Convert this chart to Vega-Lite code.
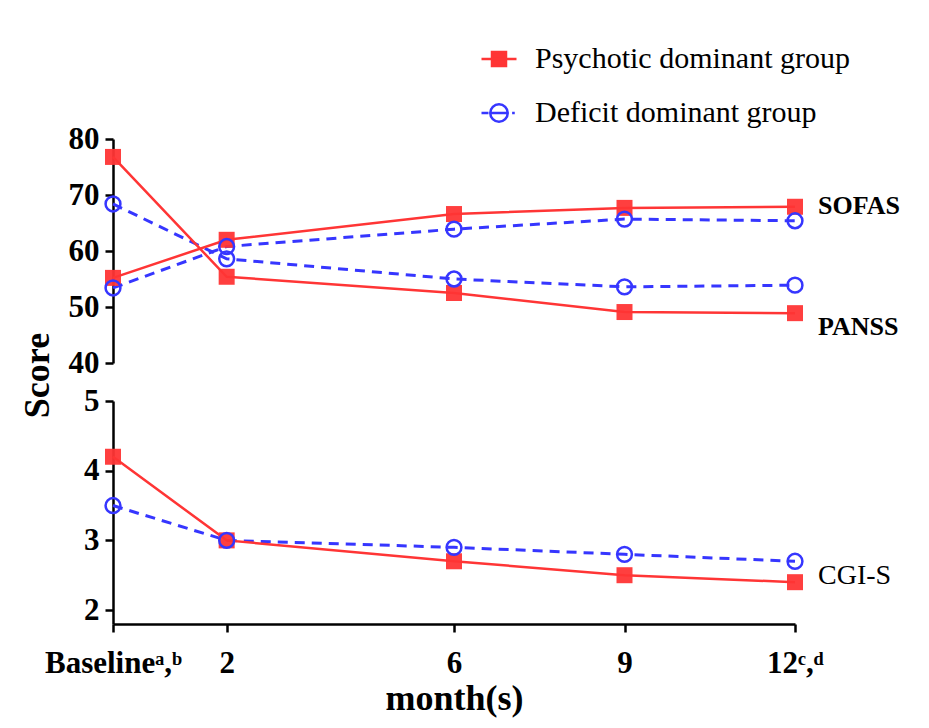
{
  "$schema": "https://vega.github.io/schema/vega-lite/v6.json",
  "background": "white",
  "bounds": "flush",
  "padding": {"left": 19, "top": 40, "right": 5, "bottom": 5},
  "config": {
    "font": "Liberation Serif",
    "view": {"stroke": null},
    "axis": {"grid": false, "domainColor": "black", "domainWidth": 2.5, "tickColor": "black", "tickWidth": 2.5, "tickSize": 8, "labelFont": "Liberation Serif", "labelFontWeight": "bold", "labelFontSize": 31, "labelColor": "black", "labelOverlap": false, "labelFlush": false, "labelBound": false, "titleFont": "Liberation Serif", "titleFontWeight": "bold", "titleFontSize": 36, "titleColor": "black"},
    "legend": {"orient": "none", "legendX": 367, "legendY": -99, "padding": 0, "direction": "vertical", "symbolSize": 1225, "symbolStrokeWidth": 2.5, "symbolOpacity": 1, "labelFont": "Liberation Serif", "labelFontSize": 30, "labelColor": "black", "labelOffset": 17, "rowPadding": 20, "labelLimit": 500}
  },
  "datasets": {
    "scores": [
      {"measure": "PANSS", "group": "Psychotic dominant group", "month": 0, "score": 76.8},
      {"measure": "PANSS", "group": "Psychotic dominant group", "month": 2, "score": 55.4},
      {"measure": "PANSS", "group": "Psychotic dominant group", "month": 6, "score": 52.5},
      {"measure": "PANSS", "group": "Psychotic dominant group", "month": 9, "score": 49.1},
      {"measure": "PANSS", "group": "Psychotic dominant group", "month": 12, "score": 48.9},
      {"measure": "SOFAS", "group": "Psychotic dominant group", "month": 0, "score": 55.2},
      {"measure": "SOFAS", "group": "Psychotic dominant group", "month": 2, "score": 62.0},
      {"measure": "SOFAS", "group": "Psychotic dominant group", "month": 6, "score": 66.6},
      {"measure": "SOFAS", "group": "Psychotic dominant group", "month": 9, "score": 67.7},
      {"measure": "SOFAS", "group": "Psychotic dominant group", "month": 12, "score": 67.9},
      {"measure": "PANSS", "group": "Deficit dominant group", "month": 0, "score": 68.4},
      {"measure": "PANSS", "group": "Deficit dominant group", "month": 2, "score": 58.6},
      {"measure": "PANSS", "group": "Deficit dominant group", "month": 6, "score": 55.0},
      {"measure": "PANSS", "group": "Deficit dominant group", "month": 9, "score": 53.6},
      {"measure": "PANSS", "group": "Deficit dominant group", "month": 12, "score": 53.9},
      {"measure": "SOFAS", "group": "Deficit dominant group", "month": 0, "score": 53.4},
      {"measure": "SOFAS", "group": "Deficit dominant group", "month": 2, "score": 60.8},
      {"measure": "SOFAS", "group": "Deficit dominant group", "month": 6, "score": 63.9},
      {"measure": "SOFAS", "group": "Deficit dominant group", "month": 9, "score": 65.7},
      {"measure": "SOFAS", "group": "Deficit dominant group", "month": 12, "score": 65.4},
      {"measure": "CGI-S", "group": "Psychotic dominant group", "month": 0, "score": 4.2},
      {"measure": "CGI-S", "group": "Psychotic dominant group", "month": 2, "score": 3.0},
      {"measure": "CGI-S", "group": "Psychotic dominant group", "month": 6, "score": 2.7},
      {"measure": "CGI-S", "group": "Psychotic dominant group", "month": 9, "score": 2.5},
      {"measure": "CGI-S", "group": "Psychotic dominant group", "month": 12, "score": 2.4},
      {"measure": "CGI-S", "group": "Deficit dominant group", "month": 0, "score": 3.5},
      {"measure": "CGI-S", "group": "Deficit dominant group", "month": 2, "score": 3.0},
      {"measure": "CGI-S", "group": "Deficit dominant group", "month": 6, "score": 2.9},
      {"measure": "CGI-S", "group": "Deficit dominant group", "month": 9, "score": 2.8},
      {"measure": "CGI-S", "group": "Deficit dominant group", "month": 12, "score": 2.7}
    ],
    "labels": [
      {"measure": "SOFAS", "month": 12, "score": 68.0},
      {"measure": "PANSS", "month": 12, "score": 46.4},
      {"measure": "CGI-S", "month": 12, "score": 2.49}
    ],
    "legendrows": [
      {"series": "Psychotic dominant group", "month": 6, "score": 500},
      {"series": "Deficit dominant group", "month": 6, "score": 500}
    ]
  },
  "spacing": 38,
  "vconcat": [
    {
      "width": 682,
      "height": 224,
      "encoding": {
        "x": {"field": "month", "type": "quantitative", "scale": {"domain": [0, 12], "nice": false, "zero": false}, "axis": null},
        "y": {"field": "score", "type": "quantitative", "scale": {"domain": [40, 80], "nice": false, "zero": false},
              "axis": {"values": [40, 50, 60, 70, 80], "title": "Score", "titleX": -76, "titleY": 236, "titleAngle": -90, "titleBaseline": "middle", "titleAlign": "center", "labelPadding": 6}}
      },
      "layer": [
        {
          "data": {"name": "scores"},
          "transform": [{"filter": "datum.measure != 'CGI-S' && datum.group == 'Deficit dominant group'"}],
          "mark": {"type": "line", "color": "#3636ff", "strokeWidth": 3, "strokeDash": [10, 7]},
          "encoding": {"detail": {"field": "measure"}}
        },
        {
          "data": {"name": "scores"},
          "transform": [{"filter": "datum.measure != 'CGI-S' && datum.group == 'Psychotic dominant group'"}],
          "mark": {"type": "line", "color": "#ff3535", "strokeWidth": 2.5},
          "encoding": {"detail": {"field": "measure"}}
        },
        {
          "data": {"name": "scores"},
          "transform": [{"filter": "datum.measure != 'CGI-S' && datum.group == 'Psychotic dominant group'"}],
          "mark": {"type": "point", "shape": "square", "filled": true, "color": "#ff3535", "opacity": 0.95, "size": 256}
        },
        {
          "data": {"name": "scores"},
          "transform": [{"filter": "datum.measure != 'CGI-S' && datum.group == 'Deficit dominant group'"}],
          "mark": {"type": "point", "shape": "circle", "filled": false, "color": "#3636ff", "opacity": 1, "strokeWidth": 2.5, "size": 220}
        },
        {
          "data": {"name": "labels"},
          "transform": [{"filter": "datum.measure != 'CGI-S'"}],
          "mark": {"type": "text", "align": "left", "baseline": "middle", "dx": 23, "fontSize": 26, "fontWeight": "bold", "color": "black", "font": "Liberation Serif"},
          "encoding": {"text": {"field": "measure"}}
        },
        {
          "data": {"name": "legendrows"},
          "mark": {"type": "point", "clip": true, "strokeWidth": 2.5, "opacity": 1},
          "encoding": {
            "shape": {"field": "series", "type": "nominal", "title": null,
                      "scale": {"domain": ["Psychotic dominant group", "Deficit dominant group"],
                                "range": ["M-1,0H1M-0.4,-0.4H0.4V0.4H-0.4Z", "M-1,0H-0.6M-0.5,0H0.5M0.75,0H0.9M0.5,0A0.5,0.5 0 1,1 -0.5,0A0.5,0.5 0 1,1 0.5,0Z"]}},
            "fill": {"field": "series", "type": "nominal", "title": null,
                     "scale": {"domain": ["Psychotic dominant group", "Deficit dominant group"], "range": ["#ff3535", "transparent"]}},
            "stroke": {"field": "series", "type": "nominal", "title": null,
                       "scale": {"domain": ["Psychotic dominant group", "Deficit dominant group"], "range": ["#ff3535", "#3636ff"]}}
          }
        }
      ]
    },
    {
      "width": 682,
      "height": 223,
      "encoding": {
        "x": {"field": "month", "type": "quantitative", "scale": {"domain": [0, 12], "nice": false, "zero": false},
              "axis": {"values": [0, 2, 6, 9, 12], "title": "month(s)", "labelPadding": 16, "titlePadding": 3,
                       "labelExpr": "datum.value == 0 ? 'Baselineᵃ,ᵇ' : datum.value == 12 ? '12ᶜ,ᵈ' : datum.label"}},
        "y": {"field": "score", "type": "quantitative", "scale": {"domain": [1.8, 5], "nice": false, "zero": false},
              "axis": {"values": [2, 3, 4, 5], "title": null, "labelPadding": 6}}
      },
      "layer": [
        {
          "data": {"name": "scores"},
          "transform": [{"filter": "datum.measure == 'CGI-S' && datum.group == 'Deficit dominant group'"}],
          "mark": {"type": "line", "color": "#3636ff", "strokeWidth": 3, "strokeDash": [10, 7]},
          "encoding": {}
        },
        {
          "data": {"name": "scores"},
          "transform": [{"filter": "datum.measure == 'CGI-S' && datum.group == 'Psychotic dominant group'"}],
          "mark": {"type": "line", "color": "#ff3535", "strokeWidth": 2.5},
          "encoding": {}
        },
        {
          "data": {"name": "scores"},
          "transform": [{"filter": "datum.measure == 'CGI-S' && datum.group == 'Psychotic dominant group'"}],
          "mark": {"type": "point", "shape": "square", "filled": true, "color": "#ff3535", "opacity": 0.95, "size": 256}
        },
        {
          "data": {"name": "scores"},
          "transform": [{"filter": "datum.measure == 'CGI-S' && datum.group == 'Deficit dominant group'"}],
          "mark": {"type": "point", "shape": "circle", "filled": false, "color": "#3636ff", "opacity": 1, "strokeWidth": 2.5, "size": 220}
        },
        {
          "data": {"name": "labels"},
          "transform": [{"filter": "datum.measure == 'CGI-S'"}],
          "mark": {"type": "text", "align": "left", "baseline": "middle", "dx": 23, "fontSize": 28, "fontWeight": "normal", "color": "black", "font": "Liberation Serif"},
          "encoding": {"text": {"field": "measure"}}
        }
      ]
    }
  ]
}
